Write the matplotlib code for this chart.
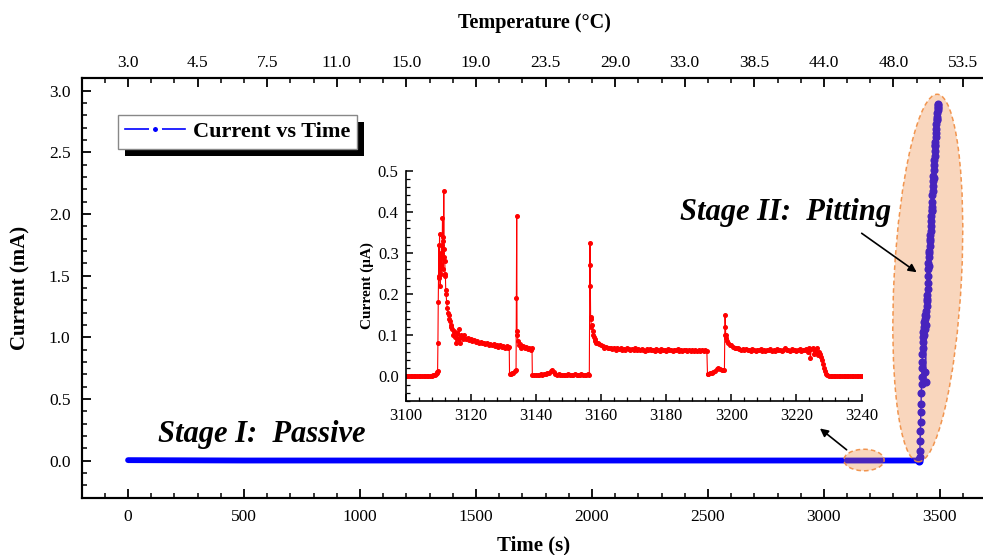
import numpy as np
import matplotlib
matplotlib.use('Agg')
import matplotlib.pyplot as plt
from matplotlib.patches import Ellipse, Rectangle
from matplotlib.lines import Line2D
import matplotlib.transforms as mtransforms
from matplotlib.ticker import MultipleLocator, FormatStrFormatter

plt.rcParams['font.family'] = ['Liberation Serif', 'DejaVu Serif']

# ---------------- main series ----------------
passive_time = [0, 500, 1000, 1500, 2000, 2500, 3000, 3411]
passive_current = [0.003, 0.0, 0.0, 0.0, 0.0, 0.0, 0.0, 0.0]

pitting_time = np.arange(3411, 3495)
pitting_current = [
    0.00, 0.01, 0.03, 0.08, 0.16, 0.24, 0.31, 0.39, 0.46, 0.55,
    0.62, 0.68, 0.75, 0.80, 0.86, 0.91, 0.96, 1.00, 1.04, 1.02,
    1.08, 1.12, 1.06, 1.15, 1.11, 1.18, 1.07, 0.72, 0.635, 1.10,
    1.21, 1.17, 1.25, 1.29, 1.34, 1.31, 1.39, 1.44, 1.50, 1.55,
    1.60, 1.58, 1.65, 1.70, 1.68, 1.74, 1.78, 1.83, 1.80, 1.86,
    1.90, 1.94, 1.98, 2.02, 2.06, 2.03, 2.10, 2.15, 2.19, 2.23,
    2.27, 2.31, 2.29, 2.36, 2.40, 2.44, 2.47, 2.51, 2.55, 2.58,
    2.56, 2.62, 2.66, 2.69, 2.73, 2.76, 2.79, 2.77, 2.82, 2.84,
    2.86, 2.88, 2.87, 2.89]

temp_tick_time = [0, 300, 600, 900, 1200, 1500, 1800, 2100, 2400, 2700, 3000, 3300, 3600]
temp_labels = ['3.0', '4.5', '7.5', '11.0', '15.0', '19.0', '23.5', '29.0',
               '33.0', '38.5', '44.0', '48.0', '53.5']

# ---------------- inset series (current in uA) ----------------
time_a = np.arange(3100.0, 3109.5, 0.5)
cur_a = [0.0, 0.0, 0.0, 0.0, 0.0, 0.0, 0.0, 0.0, 0.0, 0.0,
         0.0, 0.0, 0.0, 0.0, 0.0, 0.0, 0.001, 0.002, 0.003]

time_b = [3109.3, 3109.5, 3109.7, 3109.8, 3109.9,
          3110.0, 3110.1, 3110.2, 3110.3, 3110.4,
          3110.5, 3110.6, 3110.7, 3110.8, 3110.9,
          3111.0, 3111.1, 3111.2, 3111.3, 3111.4,
          3111.5, 3111.6, 3111.7, 3111.8, 3111.9,
          3112.0, 3112.1, 3112.2, 3112.3, 3112.4,
          3112.6, 3112.8, 3113.0, 3113.2, 3113.4,
          3113.6, 3113.8, 3114.0, 3114.3, 3114.6,
          3114.9, 3115.2, 3115.5, 3115.8, 3116.1,
          3116.4, 3116.7, 3117.0, 3117.3, 3117.6,
          3118.0, 3118.5, 3119.0, 3119.5, 3120.0,
          3120.5, 3121.0, 3121.5, 3122.0, 3122.5,
          3123.0, 3123.5, 3124.0, 3124.5, 3125.0,
          3125.5, 3126.0, 3126.5, 3127.0, 3127.5,
          3128.0, 3128.5, 3129.0, 3129.5, 3130.0,
          3130.5, 3131.0, 3131.5, 3131.8]
cur_b = [0.005, 0.008, 0.010, 0.012, 0.080,
         0.180, 0.245, 0.320, 0.240, 0.345,
         0.260, 0.220, 0.300, 0.250, 0.290,
         0.270, 0.320, 0.300, 0.385, 0.340,
         0.260, 0.330, 0.450, 0.310, 0.290,
         0.280, 0.250, 0.245, 0.210, 0.200,
         0.180, 0.165, 0.155, 0.150, 0.140,
         0.135, 0.125, 0.120, 0.115, 0.100,
         0.110, 0.095, 0.080, 0.105, 0.090,
         0.115, 0.080, 0.100, 0.095, 0.090,
         0.100, 0.090, 0.092, 0.088, 0.090,
         0.085, 0.088, 0.083, 0.085, 0.080,
         0.084, 0.080, 0.082, 0.078, 0.080,
         0.077, 0.079, 0.075, 0.078, 0.074,
         0.076, 0.072, 0.075, 0.071, 0.074,
         0.070, 0.073, 0.069, 0.072]

time_c = [3131.9, 3132.3, 3132.7, 3133.1, 3133.5,
          3133.9, 3134.0, 3134.1, 3134.2, 3134.3,
          3134.5, 3134.8, 3135.1, 3135.5, 3136.0,
          3136.5, 3137.0, 3137.5, 3138.0, 3138.5,
          3138.8]
cur_c = [0.005, 0.005, 0.007, 0.008, 0.012,
         0.015, 0.190, 0.390, 0.110, 0.100,
         0.085, 0.075, 0.078, 0.070, 0.073,
         0.068, 0.072, 0.066, 0.070, 0.065,
         0.070]

time_d = [3138.9, 3139.5, 3140.0, 3140.5, 3141.0,
          3141.5, 3142.0, 3142.5, 3143.0, 3143.5,
          3144.0, 3144.5, 3145.0, 3145.5, 3146.0,
          3146.5, 3147.0, 3147.5, 3148.0, 3148.5,
          3149.0, 3149.5, 3150.0, 3150.5, 3151.0,
          3151.5, 3152.0, 3152.5, 3153.0, 3153.5,
          3154.0, 3154.5, 3155.0, 3155.5, 3156.0,
          3156.4]
cur_d = [0.002, 0.003, 0.002, 0.004, 0.003,
         0.005, 0.004, 0.006, 0.005, 0.007,
         0.008, 0.012, 0.016, 0.010, 0.006,
         0.004, 0.005, 0.003, 0.004, 0.002,
         0.003, 0.004, 0.005, 0.003, 0.004,
         0.003, 0.005, 0.004, 0.003, 0.004,
         0.005, 0.004, 0.003, 0.004, 0.005,
         0.004]

time_e = [3156.55, 3156.6, 3156.7, 3156.8, 3156.9,
          3157.0, 3157.2, 3157.4, 3157.6, 3157.8,
          3158.0, 3158.3, 3158.6, 3159.0, 3159.5,
          3160.0, 3160.5, 3161.0, 3161.5, 3162.0,
          3162.5]
cur_e = [0.270, 0.325, 0.220, 0.145, 0.140,
         0.120, 0.125, 0.110, 0.100, 0.095,
         0.090, 0.085, 0.082, 0.080, 0.078,
         0.075, 0.073, 0.070, 0.072, 0.068,
         0.070]

time_e2 = np.arange(3163.0, 3193.0, 0.5)
cur_e2 = [0.068, 0.066, 0.069, 0.065, 0.068, 0.066, 0.070, 0.065, 0.067, 0.064,
          0.068, 0.066, 0.063, 0.067, 0.065, 0.068, 0.064, 0.066, 0.063, 0.067,
          0.065, 0.062, 0.066, 0.064, 0.067, 0.063, 0.065, 0.062, 0.066, 0.064,
          0.061, 0.066, 0.063, 0.065, 0.062, 0.066, 0.063, 0.064, 0.061, 0.065,
          0.063, 0.066, 0.062, 0.064, 0.061, 0.065, 0.063, 0.062, 0.065, 0.061,
          0.064, 0.062, 0.065, 0.061, 0.063, 0.062, 0.064, 0.061, 0.063, 0.062]

time_f = [3192.7, 3193.0, 3193.5, 3194.0, 3194.5, 3195.0,
          3195.5, 3196.0, 3196.5, 3197.0, 3197.5, 3197.9]
cur_f = [0.005, 0.006, 0.007, 0.009, 0.010, 0.013,
         0.017, 0.020, 0.018, 0.015, 0.016, 0.015]

time_g = [3198.0, 3198.1, 3198.2, 3198.3, 3198.5, 3198.8, 3199.1,
          3199.5, 3200.0, 3200.5, 3201.0, 3201.5, 3202.0, 3202.5]
cur_g = [0.100, 0.148, 0.120, 0.100, 0.092, 0.085, 0.080,
         0.077, 0.075, 0.072, 0.070, 0.068, 0.069, 0.066]

time_g2 = np.arange(3203.0, 3223.5, 0.5)
cur_g2 = [0.065, 0.067, 0.064, 0.066, 0.063, 0.065, 0.062, 0.066, 0.064, 0.061,
          0.065, 0.063, 0.066, 0.062, 0.064, 0.061, 0.065, 0.063, 0.066, 0.062,
          0.064, 0.061, 0.066, 0.063, 0.065, 0.062, 0.064, 0.068, 0.063, 0.065,
          0.062, 0.066, 0.063, 0.065, 0.061, 0.064, 0.066, 0.062, 0.065, 0.063,
          0.067]

time_h = [3223.5, 3224.0, 3224.3, 3224.6, 3225.0, 3225.3, 3225.6, 3226.0, 3226.3, 3226.6,
          3227.0, 3227.3, 3227.6, 3227.9, 3228.2, 3228.5, 3228.8, 3229.1, 3229.5, 3230.0]
cur_h = [0.060, 0.068, 0.045, 0.066, 0.070, 0.055, 0.064, 0.060, 0.068, 0.052,
         0.060, 0.055, 0.048, 0.040, 0.030, 0.020, 0.012, 0.006, 0.003, 0.001]

time_i = np.arange(3230.5, 3240.5, 0.5)
cur_i = [0.0, 0.0, 0.0, 0.0, 0.0, 0.0, 0.0, 0.0, 0.0, 0.0,
         0.0, 0.0, 0.0, 0.0, 0.0, 0.0, 0.0, 0.0, 0.0, 0.0]

inset_time = np.concatenate([time_a, time_b, time_c, time_d, time_e, time_e2,
                             time_f, time_g, time_g2, time_h, time_i])
inset_current = np.concatenate([cur_a, cur_b, cur_c, cur_d, cur_e, cur_e2,
                                cur_f, cur_g, cur_g2, cur_h, cur_i])

# ---------------- figure ----------------
BLUE = '#0000FF'
fig = plt.figure(figsize=(9.83, 5.55), dpi=100)
ax = fig.add_axes([0.0831, 0.1036, 0.9202, 0.7553])
ax.set_xlim(-200, 3700)
ax.set_ylim(-0.3, 3.1)

ax.plot(passive_time, passive_current, color=BLUE, lw=4.2,
        solid_capstyle='round', solid_joinstyle='round', zorder=3)
ax.plot(pitting_time, pitting_current, color=BLUE, lw=1.0, marker='o',
        ms=4.8, mec=BLUE, mfc=BLUE, zorder=3)

for sp in ax.spines.values():
    sp.set_linewidth(1.5)
ax.xaxis.set_major_locator(MultipleLocator(500))
ax.xaxis.set_minor_locator(MultipleLocator(100))
ax.yaxis.set_major_locator(MultipleLocator(0.5))
ax.yaxis.set_minor_locator(MultipleLocator(0.1))
ax.yaxis.set_major_formatter(FormatStrFormatter('%.1f'))
ax.tick_params(which='both', direction='in', top=False, right=False,
               labelsize=12.5, pad=8)
ax.tick_params(which='major', length=6.5, width=1.3)
ax.tick_params(which='minor', length=3.8, width=1.1)
ax.set_xlabel('Time (s)', fontsize=15, fontweight='bold', labelpad=8)
ax.set_ylabel('Current (mA)', fontsize=15, fontweight='bold', labelpad=13)

axt = ax.twiny()
axt.set_xlim(ax.get_xlim())
axt.set_xticks(temp_tick_time)
axt.set_xticklabels(temp_labels)
axt.xaxis.set_minor_locator(MultipleLocator(100))
axt.tick_params(which='both', direction='in', labelsize=12.5, pad=5)
axt.tick_params(which='major', length=6.5, width=1.3)
axt.tick_params(which='minor', length=3.8, width=1.1)
axt.set_xlabel('Temperature (\u00b0C)', fontsize=14.5, fontweight='bold', labelpad=20)
for sp in axt.spines.values():
    sp.set_linewidth(1.5)
axt.tick_params(axis='y', left=False, right=False, labelleft=False, labelright=False)

# ellipses (sized in points, centered in data)
def ellipse_at(x, y, w_pt, h_pt, angle):
    tr = mtransforms.Affine2D().scale(fig.dpi / 72.0) + \
        mtransforms.ScaledTranslation(x, y, ax.transData)
    e = Ellipse((0, 0), w_pt, h_pt, angle=angle, transform=tr,
                facecolor=(0.93, 0.48, 0.15, 0.30),
                edgecolor=(0.94, 0.55, 0.25, 0.9), lw=1.1,
                linestyle=(0, (3, 2)), zorder=4)
    ax.add_artist(e)

ellipse_at(3448, 1.48, 48.5, 265, -3.0)
ellipse_at(3173, 0.004, 29, 15.5, 0)

# stage texts and arrows
ax.text(128, 0.15, 'Stage I:  Passive', fontsize=22, fontweight='bold',
        fontstyle='italic', ha='left', va='baseline', zorder=6)
ax.text(2378, 1.95, 'Stage II:  Pitting', fontsize=22, fontweight='bold',
        fontstyle='italic', ha='left', va='baseline', zorder=6)
ax.annotate('', xy=(3400, 1.527), xytext=(3163, 1.843),
            arrowprops=dict(arrowstyle='-|>', color='black', lw=1.2,
                            mutation_scale=12, shrinkA=0, shrinkB=0), zorder=6)
ax.annotate('', xy=(2983, 0.26), xytext=(3098, 0.087),
            arrowprops=dict(arrowstyle='-|>', color='black', lw=1.2,
                            mutation_scale=12, shrinkA=0, shrinkB=0), zorder=6)

# legend with black offset shadow
handle = Line2D([], [], color=BLUE, lw=1.2, marker='o', ms=6.5, mfc=BLUE,
                mec='white', mew=2.9)
leg = ax.legend([handle], ['Current vs Time'], loc='upper left',
                bbox_to_anchor=(0.0405, 0.9125), borderaxespad=0,
                prop={'size': 16, 'weight': 'bold'}, fancybox=False,
                framealpha=1, edgecolor='#888888', handlelength=2.7,
                handletextpad=0.35, borderpad=0.3)
leg.get_frame().set_linewidth(1.0)
leg.set_zorder(7)
fig.canvas.draw()
bb = leg.get_window_extent()
shadow = Rectangle((bb.x0 + 7, bb.y0 - 7), bb.width, bb.height,
                   transform=mtransforms.IdentityTransform(),
                   facecolor='black', edgecolor='none', zorder=6.5)
ax.add_artist(shadow)

# ---------------- inset ----------------
axi = fig.add_axes([0.4127, 0.2775, 0.4637, 0.4149])
axi.patch.set_alpha(0)
axi.plot(inset_time, inset_current, color='#FF0000', lw=0.8, marker='o',
         ms=2.6, mec='#FF0000', mfc='#FF0000')
axi.set_xlim(3100, 3240)
axi.set_ylim(-0.06, 0.5)
axi.spines['top'].set_visible(False)
axi.spines['right'].set_visible(False)
for s in ('left', 'bottom'):
    axi.spines[s].set_linewidth(1.2)
axi.xaxis.set_major_locator(MultipleLocator(20))
axi.xaxis.set_minor_locator(MultipleLocator(4))
axi.yaxis.set_major_locator(MultipleLocator(0.1))
axi.yaxis.set_minor_locator(MultipleLocator(0.02))
axi.yaxis.set_major_formatter(FormatStrFormatter('%.1f'))
axi.tick_params(which='both', direction='in', labelsize=12, pad=5)
axi.tick_params(which='major', length=5, width=1.1)
axi.tick_params(which='minor', length=3, width=0.9)
axi.set_ylabel('Current (\u03bcA)', fontsize=11, fontweight='bold', labelpad=3)

fig.savefig('out.png', dpi=100)
